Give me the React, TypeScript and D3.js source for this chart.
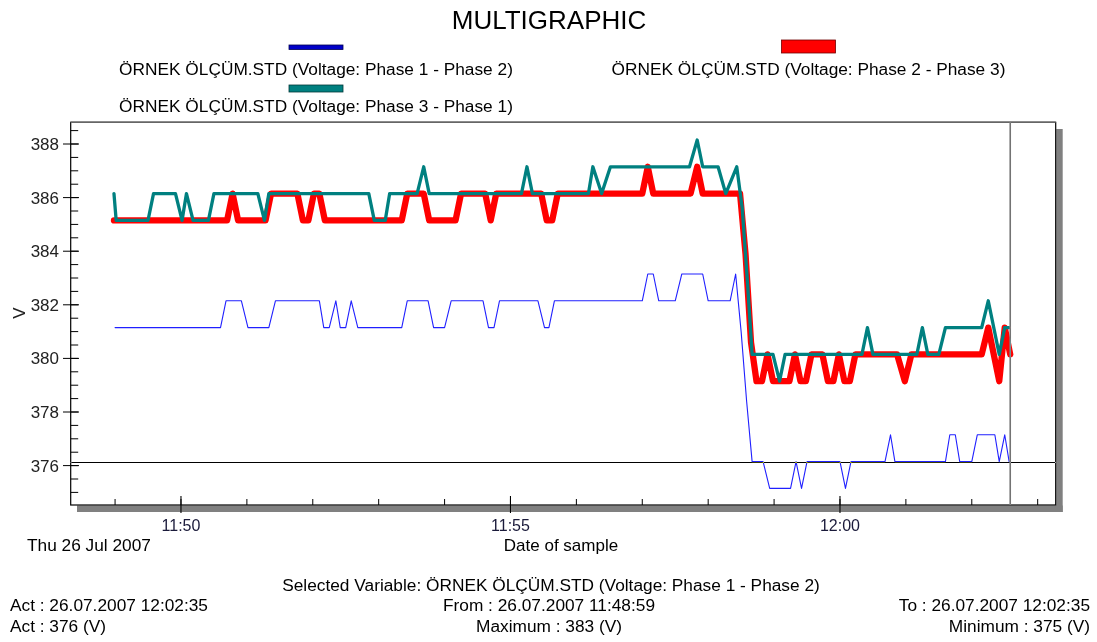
import React, { useEffect, useRef } from 'react';
import * as d3 from 'd3';

// each trace is kept as its vertices: [seconds after 11:48:59, volts]
const phase12: [number, number][] = [
  [1, 381.15], [97, 381.15], [102, 382.15], [116, 382.15], [122, 381.15], [141, 381.15],
  [147, 382.15], [187, 382.15], [191, 381.15], [196, 381.15], [202, 382.15], [206, 381.15],
  [211, 381.15], [216, 382.15], [222, 381.15], [262, 381.15], [267, 382.15], [286, 382.15],
  [291, 381.15], [301, 381.15], [307, 382.15], [336, 382.15], [341, 381.15], [346, 381.15],
  [351, 382.15], [386, 382.15], [392, 381.15], [396, 381.15], [401, 382.15], [481, 382.15],
  [486, 383.15], [491, 383.15], [496, 382.15], [511, 382.15], [517, 383.15], [536, 383.15],
  [541, 382.15], [561, 382.15], [566, 383.15], [571, 381.0], [576, 378.4], [581, 376.15],
  [591, 376.15], [597, 375.15], [616, 375.15], [621, 376.15], [626, 375.15], [631, 376.15],
  [661, 376.15], [666, 375.15], [671, 376.15], [702, 376.15], [707, 377.15], [711, 376.15],
  [757, 376.15], [761, 377.15], [766, 377.15], [770, 376.15], [781, 376.15], [786, 377.15],
  [802, 377.15], [806, 376.15], [811, 377.15], [815, 376.15],
];

const phase23: [number, number][] = [
  [0, 385.15], [103, 385.15], [108, 386.15], [113, 385.15], [138, 385.15], [143, 386.15],
  [167, 386.15], [172, 385.15], [177, 385.15], [182, 386.15], [187, 386.15], [192, 385.15],
  [262, 385.15], [267, 386.15], [282, 386.15], [287, 385.15], [311, 385.15], [316, 386.15],
  [338, 386.15], [343, 385.15], [348, 386.15], [389, 386.15], [394, 385.15], [399, 385.15],
  [404, 386.15], [481, 386.15], [486, 387.15], [491, 386.15], [525, 386.15], [531, 387.15],
  [536, 386.15], [570, 386.15], [575, 383.9], [580, 380.6], [585, 379.15], [590, 379.15],
  [595, 380.15], [600, 379.15], [615, 379.15], [620, 380.15], [625, 379.15], [630, 379.15],
  [635, 380.15], [645, 380.15], [650, 379.15], [655, 379.15], [660, 380.15], [665, 379.15],
  [670, 379.15], [675, 380.15], [713, 380.15], [720, 379.15], [726, 380.15], [790, 380.15],
  [796, 381.15], [801, 380.15], [806, 379.15], [811, 381.15], [816, 380.15],
];

const phase31: [number, number][] = [
  [0, 386.15], [2, 385.15], [31, 385.15], [36, 386.15], [56, 386.15], [62, 385.15],
  [66, 386.15], [72, 385.15], [86, 385.15], [91, 386.15], [131, 386.15], [137, 385.15],
  [141, 386.15], [232, 386.15], [237, 385.15], [247, 385.15], [251, 386.15], [276, 386.15],
  [282, 387.15], [287, 386.15], [371, 386.15], [376, 387.15], [381, 386.15], [432, 386.15],
  [436, 387.15], [444, 386.15], [452, 387.15], [524, 387.15], [531, 388.15], [536, 387.15],
  [550, 387.15], [557, 386.15], [567, 387.15], [572, 385.6], [577, 382.7], [581, 380.15],
  [600, 380.15], [606, 379.15], [611, 380.15], [681, 380.15], [686, 381.15], [691, 380.15],
  [731, 380.15], [736, 381.15], [741, 380.15], [751, 380.15], [757, 381.15], [790, 381.15],
  [796, 382.15], [806, 380.15], [811, 381.15], [815, 381.15],
];

const seriesNames = [
  'ÖRNEK ÖLÇÜM.STD (Voltage: Phase 1 - Phase 2)',
  'ÖRNEK ÖLÇÜM.STD (Voltage: Phase 2 - Phase 3)',
  'ÖRNEK ÖLÇÜM.STD (Voltage: Phase 3 - Phase 1)',
];
const yTickValues = [376, 378, 380, 382, 384, 386, 388];
const cursorValue = 376.15;
const infoLeft = ['Act : 26.07.2007 12:02:35', 'Act : 376 (V)'];
const infoMid = ['From : 26.07.2007 11:48:59', 'Maximum : 383 (V)'];
const infoRight = ['To : 26.07.2007 12:02:35', 'Minimum : 375 (V)'];

const FONT = '"Liberation Sans", Arial, sans-serif';

export default function App() {
  const svgRef = useRef<SVGSVGElement>(null);

  useEffect(() => {
    const svg = d3.select(svgRef.current);
    svg.selectAll('*').remove();

    const t0 = new Date(2007, 6, 26, 11, 48, 59).getTime();
    const at = (s: number) => new Date(t0 + s * 1000);
    const L = 70.7, R = 1055.7, T = 122.3, B = 505;

    const x = d3.scaleTime().domain([at(-39.4), at(857.4)]).range([L, R]);
    const y = d3.scaleLinear().domain([374.53, 388.81]).range([B, T]);

    svg.append('rect').attr('width', 1097).attr('height', 642).attr('fill', '#fff');

    // title
    svg.append('text').attr('x', 549).attr('y', 29).attr('text-anchor', 'middle')
      .attr('font-size', 26).text('MULTIGRAPHIC');

    // legend
    const legend = [
      { cx: 316, sy: 45, sh: 4.5, ty: 75, fill: '#0000c8', stroke: '#000050' },
      { cx: 808.5, sy: 40, sh: 13, ty: 75, fill: '#ff0000', stroke: '#700000' },
      { cx: 316, sy: 85, sh: 7, ty: 112, fill: '#008080', stroke: '#003838' },
    ];
    legend.forEach((l, i) => {
      svg.append('rect').attr('x', l.cx - 27).attr('y', l.sy).attr('width', 54).attr('height', l.sh)
        .attr('fill', l.fill).attr('stroke', l.stroke).attr('stroke-width', 0.8);
      svg.append('text').attr('x', l.cx).attr('y', l.ty).attr('text-anchor', 'middle')
        .attr('font-size', 17.3).text(seriesNames[i]);
    });

    // shadow + frame
    svg.append('rect').attr('x', R + 0.5).attr('y', 129).attr('width', 6.5).attr('height', 383).attr('fill', '#808080');
    svg.append('rect').attr('x', 77).attr('y', B + 0.5).attr('width', R - 77 + 7).attr('height', 6.5).attr('fill', '#808080');
    svg.append('rect').attr('x', L).attr('y', T).attr('width', R - L).attr('height', B - T)
      .attr('fill', '#fff').attr('stroke', '#000').attr('stroke-width', 1.2);
    svg.append('line').attr('x1', L).attr('x2', R).attr('y1', T).attr('y2', T)
      .attr('stroke', '#666').attr('stroke-width', 1.4);

    // y ticks
    const yMinor = d3.range(375, 388.51, 0.5);
    svg.selectAll('.ymin').data(yMinor).enter().append('line')
      .attr('x1', L).attr('x2', L + 7.5).attr('y1', (d) => y(d)).attr('y2', (d) => y(d))
      .attr('stroke', '#000').attr('stroke-width', 1);
    svg.selectAll('.ymaj').data(yTickValues).enter().append('line')
      .attr('x1', 63).attr('x2', 79).attr('y1', (d) => y(d)).attr('y2', (d) => y(d))
      .attr('stroke', '#000').attr('stroke-width', 1);
    svg.selectAll('.ylab').data(yTickValues).enter().append('text')
      .attr('x', 59).attr('y', (d) => y(d) + 6).attr('text-anchor', 'end')
      .attr('font-size', 17).attr('fill', '#222').text((d) => d);
    svg.append('text').attr('transform', 'translate(19,313) rotate(-90)')
      .attr('text-anchor', 'middle').attr('dominant-baseline', 'central')
      .attr('font-size', 17).attr('fill', '#222').text('V');

    // x ticks
    const minutes = x.ticks(d3.timeMinute.every(1));
    const majors = x.ticks(d3.timeMinute.every(5));
    svg.selectAll('.xmin').data(minutes).enter().append('line')
      .attr('x1', (d) => x(d)).attr('x2', (d) => x(d)).attr('y1', 499).attr('y2', B)
      .attr('stroke', '#000').attr('stroke-width', 1);
    svg.selectAll('.xmaj').data(majors).enter().append('line')
      .attr('x1', (d) => x(d)).attr('x2', (d) => x(d)).attr('y1', 496).attr('y2', 513)
      .attr('stroke', '#000').attr('stroke-width', 1.1);
    svg.selectAll('.xlab').data(majors).enter().append('text')
      .attr('x', (d) => x(d)).attr('y', 531).attr('text-anchor', 'middle')
      .attr('font-size', 16).attr('fill', '#1a1a3a').text((d) => d3.timeFormat('%H:%M')(d));

    svg.append('text').attr('x', 27).attr('y', 551).attr('font-size', 17.3).text('Thu 26 Jul 2007');
    svg.append('text').attr('x', 561).attr('y', 551).attr('text-anchor', 'middle')
      .attr('font-size', 17).text('Date of sample');

    // traces
    const line = d3.line<[number, number]>().x((d) => x(at(d[0]))).y((d) => y(d[1]));
    const traces = [
      { data: phase12, color: '#2020ff', w: 1.1 },
      { data: phase23, color: '#ff0000', w: 6.3 },
      { data: phase31, color: '#008080', w: 3.3 },
    ];
    traces.forEach((t) => {
      svg.append('path').attr('d', line(t.data)).attr('fill', 'none')
        .attr('stroke', t.color).attr('stroke-width', t.w)
        .attr('stroke-linejoin', 'round').attr('stroke-linecap', 'round');
    });

    // cursor lines drawn inverting what is under them
    const cy = Math.round(y(cursorValue)) + 0.5;
    svg.append('line').attr('x1', L).attr('x2', R).attr('y1', cy).attr('y2', cy)
      .attr('stroke', '#fff').attr('stroke-width', 1).style('mix-blend-mode', 'difference');
    const cx = x(at(816));
    svg.append('line').attr('x1', cx).attr('x2', cx).attr('y1', T).attr('y2', B)
      .attr('stroke', '#fff').attr('stroke-width', 1.6).attr('stroke-opacity', 0.55)
      .style('mix-blend-mode', 'difference');

    // footer
    svg.append('text').attr('x', 551).attr('y', 591).attr('text-anchor', 'middle').attr('font-size', 17.3)
      .text('Selected Variable: ' + seriesNames[0]);
    infoLeft.forEach((s, i) => {
      svg.append('text').attr('x', 10).attr('y', 611 + i * 21).attr('font-size', 17.3).text(s);
    });
    infoMid.forEach((s, i) => {
      svg.append('text').attr('x', 549).attr('y', 611 + i * 21).attr('text-anchor', 'middle')
        .attr('font-size', 17.3).text(s);
    });
    infoRight.forEach((s, i) => {
      svg.append('text').attr('x', 1090).attr('y', 611 + i * 21).attr('text-anchor', 'end')
        .attr('font-size', 17.3).text(s);
    });
  }, []);

  return (
    <svg
      ref={svgRef}
      width={1097}
      height={642}
      style={{ position: 'absolute', left: 0, top: 0, fontFamily: FONT }}
    />
  );
}
